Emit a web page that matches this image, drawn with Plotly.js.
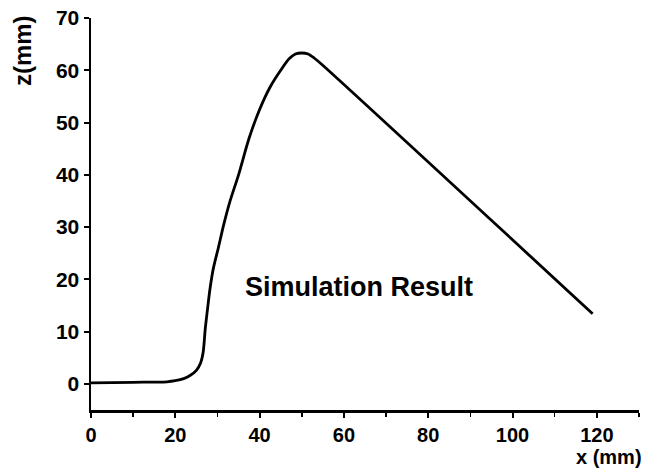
<!DOCTYPE html>
<html>
<head>
<meta charset="utf-8">
<script src="https://cdn.plot.ly/plotly-3.0.1.min.js"></script>
<style>html,body{margin:0;padding:0;background:#fff;}#chart{width:655px;height:470px;}</style>
</head>
<body>
<div id="chart"></div>
<script>
var xValues = [0, 10, 18, 20, 22, 23.5, 25, 26, 26.6, 27.1, 27.6, 28.2, 29, 30.2, 31.5, 33, 35, 37.5, 40, 42.5, 45, 47, 48.5, 50, 51.5, 53, 54.5, 119];
var zValues = [0.2, 0.3, 0.4, 0.6, 1.0, 1.6, 2.6, 4.0, 6.0, 10.5, 14, 18, 22, 26, 30.5, 35, 40, 47, 52.5, 56.8, 60, 62.2, 63.1, 63.3, 63.1, 62.3, 61.3, 13.4];
var xTicks = [0, 20, 40, 60, 80, 100, 120];
var yTicks = [0, 10, 20, 30, 40, 50, 60, 70];
var seriesLabel = "Simulation Result";
var xLabel = "x (mm)";
var yLabel = "z(mm)";

var fontFam = "Liberation Sans, Arial, sans-serif";
var trace = {
  x: xValues, y: zValues, type: "scatter", mode: "lines",
  line: {color: "#000", width: 2.8, shape: "spline", smoothing: 0.8},
  hoverinfo: "none", showlegend: false
};
var layout = {
  width: 655, height: 470,
  margin: {l: 91, r: 16, t: 18, b: 60},
  paper_bgcolor: "#fff", plot_bgcolor: "#fff",
  font: {family: fontFam, color: "#000"},
  xaxis: {
    range: [0, 130], tickvals: xTicks, ticktext: xTicks.map(String),
    showgrid: false, zeroline: false, showline: true, linecolor: "#000", linewidth: 2.5,
    ticks: "outside", ticklen: 5, tickwidth: 2, tickcolor: "#000",
    tickfont: {family: fontFam, size: 20, weight: "bold"},
    minor: {tickvals: [10, 30, 50, 70, 90, 110, 130], ticks: "outside", ticklen: 4, tickwidth: 1.5, tickcolor: "#000"}
  },
  yaxis: {
    range: [-5, 70], tickvals: yTicks, ticktext: yTicks.map(String),
    showgrid: false, zeroline: false, showline: true, linecolor: "#000", linewidth: 2.5,
    ticks: "outside", ticklen: 5, tickwidth: 2, tickcolor: "#000",
    tickfont: {family: fontFam, size: 21, weight: "bold"}
  },
  annotations: [
    {text: "<b>" + seriesLabel + "</b>", x: 63.6, y: 18.6, xref: "x", yref: "y", showarrow: false,
     font: {family: fontFam, size: 27, color: "#000"}, xanchor: "center", yanchor: "middle"},
    {text: "<b>" + xLabel + "</b>", x: 1.01, y: -0.12, xref: "paper", yref: "paper", showarrow: false,
     font: {family: fontFam, size: 20, color: "#000"}, xanchor: "right", yanchor: "middle"},
    {text: "<b>" + yLabel + "</b>", x: -0.126, y: 0.918, xref: "paper", yref: "paper", showarrow: false, textangle: -90,
     font: {family: fontFam, size: 24, color: "#000"}, xanchor: "center", yanchor: "middle"}
  ]
};
Plotly.newPlot("chart", [trace], layout, {staticPlot: true, displayModeBar: false});
</script>
</body>
</html>
